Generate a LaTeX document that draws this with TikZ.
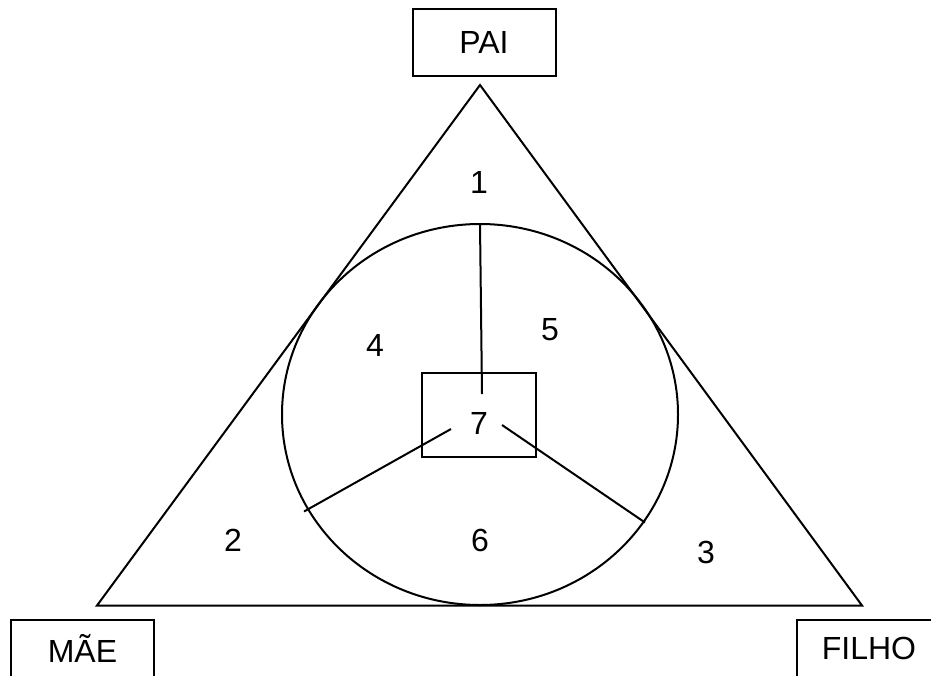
\documentclass[tikz,border=0pt]{standalone}
\usepackage{fontspec}
\setmainfont{Liberation Sans}
\usetikzlibrary{positioning}
\tikzset{
  role/.style={rectangle, draw=black, line width=2pt, minimum width=143pt,
    inner sep=0pt, font=\fontsize{32}{38}\selectfont},
  zone/.style={inner sep=0pt, font=\fontsize{32}{38}\selectfont},
  edge/.style={draw=black, line width=2pt},
}
\begin{document}
\begin{tikzpicture}[x=1pt, y=-1pt]
  \useasboundingbox (0,0) rectangle (931,675);
  \clip (0,0) rectangle (931,675);
  \fill[white] (0,0) rectangle (931,675);
  % triangle and circle
  \draw[edge, line join=miter] (480,85) -- (97,605.5) -- (862,605.5) -- cycle;
  \draw[edge] (480,414.5) ellipse [x radius=198, y radius=190.5];
  % family members
  \node[role, minimum height=67pt] (pai) at (484,42.5) {PAI};
  \node[role, minimum height=58pt] (mae) at (82.5,648.5) {MÃE};
  \node[role, minimum width=144pt, minimum height=58pt] (filho) at (869,648.5) {FILHO};
  % centre box and numbers
  \node[rectangle, draw=black, line width=2pt, minimum width=114pt, minimum height=84pt,
    inner sep=0pt] (core) at (479,415) {};
  \node[zone] (z1) at (479,182) {1};
  \node[zone] (z2) at (233,540) {2};
  \node[zone] (z3) at (706,552) {3};
  \node[zone] (z4) at (375,345) {4};
  \node[zone] (z5) at (550,330) {5};
  \node[zone] (z6) at (480,540) {6};
  \node[zone] (z7) at (479,423) {7};
  \coordinate (rim-n) at (480,224);
  \coordinate (hub-n) at (482,394);
  \coordinate (rim-w) at (304,511.5);
  \coordinate (hub-w) at (451,429);
  \coordinate (rim-e) at (645,522.5);
  \coordinate (hub-e) at (502,425);
  \draw[edge] (rim-n) -- (hub-n);
  \draw[edge] (hub-w) -- (rim-w);
  \draw[edge] (hub-e) -- (rim-e);
\end{tikzpicture}
\end{document}
